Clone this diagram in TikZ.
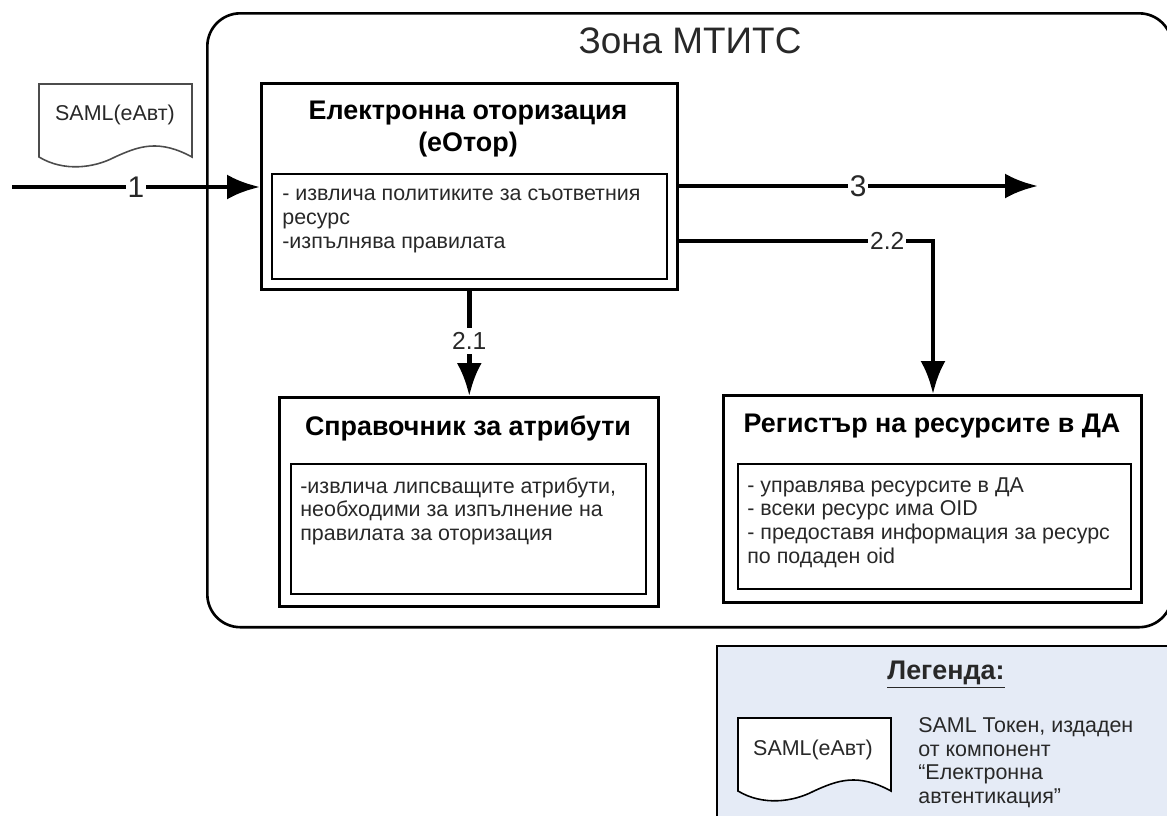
\documentclass[tikz,border=0pt]{standalone}
\usepackage{fontspec}
\setmainfont{Liberation Sans}
\usetikzlibrary{arrows.meta}
\definecolor{legendblue}{RGB}{229,235,246}
\definecolor{inktext}{RGB}{40,40,40}
\tikzset{
  outerbox/.style={draw, line width=1.5pt, anchor=north west, inner sep=0pt},
  innerbox/.style={draw, line width=.9pt, anchor=north west, inner sep=0pt},
  boxtitle/.style={font=\bfseries\fontsize{15.3}{18}\selectfont, align=center, text=black},
  boxtext/.style={font=\fontsize{12.2}{13.5}\selectfont, align=left, anchor=north west, inner sep=0pt, text=inktext},
  flow/.style={-{Latex[length=.66cm,width=.5cm]}, line width=2.8pt},
  flowlabel/.style={fill=white, inner xsep=1pt, inner ysep=0pt, font=\fontsize{14}{14}\selectfont, text=inktext},
  biglabel/.style={flowlabel, font=\fontsize{17}{17}\selectfont},
  doctext/.style={font=\fontsize{12.2}{13}\selectfont, text=inktext, inner sep=0pt},
}
\newcommand{\samldoc}[3]{% x, y, options
  \begin{scope}[shift={(#1,#2)}]
    \draw [#3, line width=.9pt] (0,0) -- (153,0) -- (153,73) .. controls (120,55) and (100,62) .. (76,73) .. controls (55,84) and (25,88) .. (0,73) -- cycle;
  \end{scope}
}
\begin{document}
\begin{tikzpicture}[x=.02cm, y=-.02cm]
  \useasboundingbox (0,0) rectangle (1167,816);
  % zone
  \node (zone) [draw, line width=1.5pt, rounded corners=.66cm, anchor=north west, minimum width=19.3cm, minimum height=12.28cm, inner sep=0pt] at (206,12) {};
  \node (zonetitle) [font=\fontsize{21}{24}\selectfont, text=inktext] at (690,41) {Зона МТИТС};
  % first box
  \node (eotor) [outerbox, minimum width=8.32cm, minimum height=4.12cm] at (260,82) {};
  \node (eotortitle) [boxtitle] at (468,129) {Електронна оторизация\\(еОтор)};
  \node (eotorin) [innerbox, minimum width=7.9cm, minimum height=2.1cm] at (271,173) {};
  \node (eotortext) [boxtext] at (282,189) {- извлича политиките за съответния\\ресурс\\-изпълнява правилата};
  % attributes
  \node (attr) [outerbox, minimum width=7.58cm, minimum height=4.18cm] at (278,396) {};
  \node (attrtitle) [boxtitle] at (468,428) {Справочник за атрибути};
  \node (attrin) [innerbox, minimum width=7.1cm, minimum height=2.6cm] at (290,463) {};
  \node (attrtext) [boxtext] at (300,477) {-извлича липсващите атрибути,\\необходими за изпълнение на\\правилата за оторизация};
  % resources
  \node (res) [outerbox, minimum width=8.36cm, minimum height=4.14cm] at (722,394) {};
  \node (restitle) [boxtitle] at (932,426) {Регистър на ресурсите в ДА};
  \node (resin) [innerbox, minimum width=7.86cm, minimum height=2.5cm] at (737,463) {};
  \node (restext) [boxtext] at (747,477) {- управлява ресурсите в ДА\\- всеки ресурс има OID\\- предоставя информация за ресурс\\по подаден oid};
  % token
  \samldoc{39}{84}{draw=black!70}
  \node (token) [doctext] at (115,115) {SAML(еАвт)};
  % connectors
  \coordinate (in) at (12,187);
  \coordinate (out) at (1038,186);
  \coordinate (bend) at (933,241);
  \draw [flow] (in) -- node [biglabel, pos=.5] {1} (eotor.west |- in);
  \draw [flow] (eotor.east |- out) -- node [biglabel, pos=.5] {3} (out);
  \draw [flow] (eotor.east |- bend) -- node [flowlabel, pos=.82] {2.2} (bend) -- (res.north -| bend);
  \draw [flow] (eotor.south) -- node [flowlabel, pos=.476, inner ysep=2.5pt] {2.1} (eotor.south |- attr.north);
  % legend
  \fill [legendblue] (717,646) rectangle (1167,816);
  \draw [line width=1.1pt] (1167,646) -- (717,646) -- (717,816);
  \node (legendtitle) [font=\bfseries\fontsize{15.3}{18}\selectfont, text=inktext] at (946,675) {\underline{Легенда:}};
  \samldoc{738}{718}{fill=white, draw=black}
  \node (legendtoken) [doctext] at (813,750) {SAML(еАвт)};
  \node (legendtext) [boxtext] at (918,717) {SAML Токен, издаден\\от компонент\\“Електронна\\автентикация”};
\end{tikzpicture}
\end{document}
